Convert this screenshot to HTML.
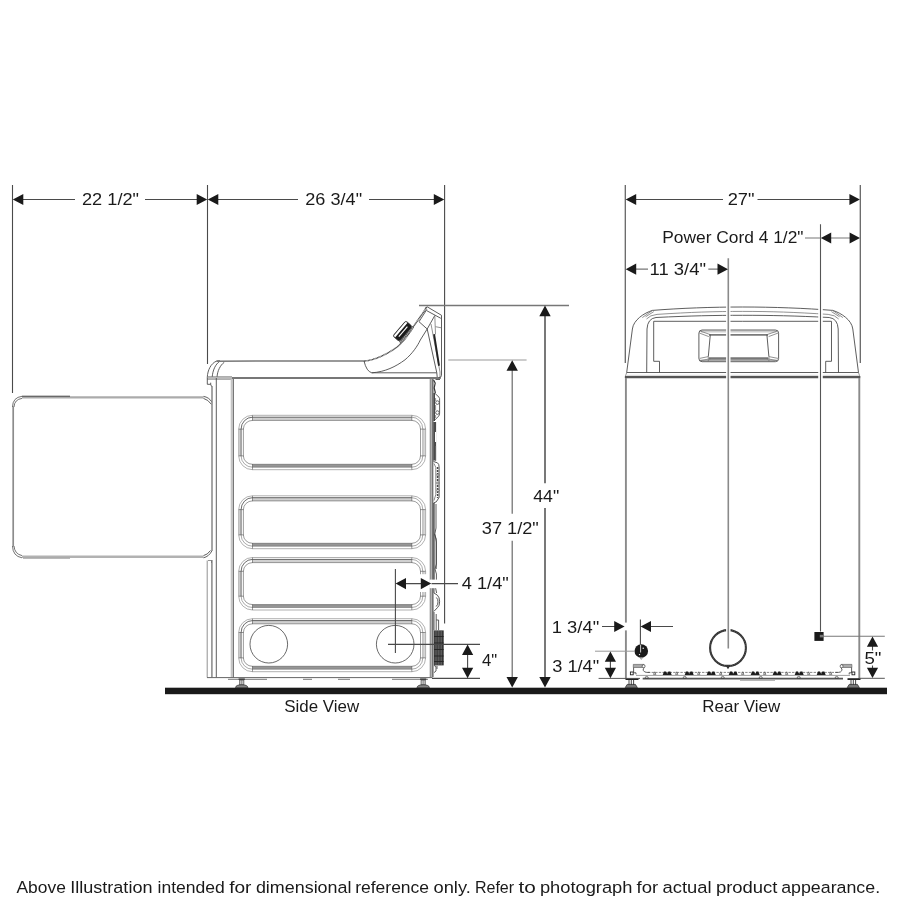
<!DOCTYPE html>
<html>
<head>
<meta charset="utf-8">
<title>Dryer dimensions</title>
<style>
html,body{margin:0;padding:0;background:#fff;}
body{width:900px;height:900px;overflow:hidden;font-family:"Liberation Sans",sans-serif;}
svg{display:block;will-change:transform;opacity:0.999;}
text{font-family:"Liberation Sans",sans-serif;fill:#1a1a1a;}
.d{stroke:#4a4a4a;stroke-width:1.1;fill:none;}
.dl{stroke:#8a8a8a;stroke-width:1.1;fill:none;}
.dk{stroke:#555;stroke-width:1.6;fill:none;}
.a{fill:#1a1a1a;stroke:none;}
.o{stroke:#4c4c4c;stroke-width:0.9;fill:none;}
.ol{stroke:#6e6e6e;stroke-width:0.75;fill:none;}
.g{stroke:#9a9a9a;stroke-width:2;fill:none;}
.t{font-size:17px;}
.v{font-size:16.5px;}
</style>
</head>
<body>
<svg width="900" height="900" viewBox="0 0 900 900">
<rect width="900" height="900" fill="#fff"/>

<!-- ===== FLOOR ===== -->
<rect x="165" y="687.7" width="722" height="6.5" fill="#1a1a1a"/>

<!-- ===== SIDE VIEW: top dimension lines ===== -->
<g id="dims-top-left">
<path class="d" d="M12.5 185V393M207.5 185V364M444.6 185V623.5"/>
<path class="d" d="M20 199.5H75M145 199.5H200M215 199.5H298M369 199.5H437"/>
<path class="a" d="M12.8 199.5l10.5-5.6v11.2zM207.2 199.5l-10.5-5.6v11.2zM207.8 199.5l10.5-5.6v11.2zM444.3 199.5l-10.5-5.6v11.2z"/>
<text class="t" x="82" y="205.3" textLength="57" lengthAdjust="spacingAndGlyphs">22 1/2"</text>
<text class="t" x="305.3" y="205.3" textLength="56.8" lengthAdjust="spacingAndGlyphs">26 3/4"</text>
</g>


<!-- ===== SIDE VIEW: body ===== -->
<g id="side-body">
<!-- open door -->
<path d="M13.2 406.5V546.5" stroke="#8c8c8c" stroke-width="1.7" fill="none"/>
<path d="M22 397.3H203.5" stroke="#ababab" stroke-width="2.3" fill="none"/>
<path d="M22 556.7H203.5" stroke="#b2b2b2" stroke-width="2.4" fill="none"/>
<path d="M22 396.2H70" stroke="#222" stroke-width="0.8" fill="none"/>
<path d="M23 558.2H70" stroke="#9a9a9a" stroke-width="1" fill="none"/>
<path d="M12.5 407Q12.7 397.4 22 396.3M14 407Q14.4 399.4 22 398.4M12.5 546Q12.8 556.2 22 557.8M14 546Q14.6 554 22 555.6" stroke="#444" stroke-width="0.75" fill="none"/>
<path class="o" d="M203.5 396.4Q209 397.2 212 402.2M203.5 398.4Q208 399.5 211.6 404.5M203.5 557.8Q209 556.5 211.8 551M203.5 555.6Q207.5 554.8 210.5 550.5"/>
<!-- lid front corner -->
<path class="o" d="M207.3 377.3C207.6 370 211 363.5 216.3 361.2Q218 360.6 220 360.8M212.2 377.3C212.6 370.5 215.5 364 219.7 361.4M217 377.3C217.4 371 220 365.5 224.3 362.2"/>
<path d="M216.5 361.2L364 360.9" stroke="#777" stroke-width="1.5" fill="none"/>
<!-- top rail under lid -->
<path d="M207.3 378H232" stroke="#cfcfcf" stroke-width="2.4" fill="none"/>
<path class="ol" d="M207.3 376.8H232M207.3 379.2H232"/>
<path d="M232 378H440.8" stroke="#777" stroke-width="2.2" fill="none"/>
<!-- notch -->
<path class="o" d="M207.3 377.3V384.3H210.7V382.7M210.7 384.3L211.6 386.7"/>
<!-- front edge verticals -->
<path d="M212 386V551M211.9 560V677.5" stroke="#888" stroke-width="1.5" fill="none"/>
<path class="o" d="M216.3 378V677.5"/>
<path d="M232.1 379V677.5" stroke="#c4c4c4" stroke-width="2.8" fill="none"/>
<path d="M233.5 379V677.5" stroke="#777" stroke-width="1" fill="none"/>
<path class="ol" d="M207.2 560.5V677.5M208 560.5H211.5V563"/>
<!-- bottom edge -->
<path d="M207 677.6H432.5" stroke="#666" stroke-width="1" fill="none"/>
<path d="M228 679.3H267M303 679.3H312M338 679.3H350M392 679.3H428" stroke="#777" stroke-width="1" fill="none"/>
<!-- feet -->
<g id="foot"><path d="M238.6 678.4h6.2v1.6h-6.2z" fill="#444"/><path d="M239.6 680v5h4.2v-5z" fill="#ccc" stroke="#444" stroke-width="0.7"/><path d="M241.7 680v5" stroke="#666" stroke-width="0.6"/><path d="M235.4 687.6q0.6-2.8 6.3-2.8t6.3 2.8z" fill="#888" stroke="#333" stroke-width="0.8"/></g>
<use href="#foot" x="181.5" y="0"/>
</g>

<!-- side panels -->
<g id="side-panels">
<path d="M252.5 418.80H411.8" stroke="#d0d0d0" stroke-width="3.20" fill="none"/>
<path d="M252.5 465.75H411.8" stroke="#969696" stroke-width="2.90" fill="none"/>
<path d="M239.90 429.1V455.9M424.20 429.1V455.9" stroke="#d6d6d6" stroke-width="2" fill="none"/>
<rect x="238.7" y="415.3" width="186.9" height="54.4" rx="13.8" fill="none" stroke="#868686" stroke-width="0.65"/>
<path d="M241.1 455.9V429.1A11.4 11.9 0 0 1 252.5 417.2H411.8" fill="none" stroke="#3a3a3a" stroke-width="0.75"/>
<path d="M411.8 417.2A11.0 11.9 0 0 1 422.8 429.1V455.9A11.0 11.3 0 0 1 411.8 467.2H252.5A11.4 11.3 0 0 1 241.1 455.9" fill="none" stroke="#707070" stroke-width="0.6"/>
<path d="M243.4 455.9V429.1A9.1 8.7 0 0 1 252.5 420.40000000000003H411.8A8.7 8.7 0 0 1 420.5 429.1V455.9A8.7 8.4 0 0 1 411.8 464.3H252.5A9.1 8.4 0 0 1 243.4 455.9z" fill="none" stroke="#666" stroke-width="0.65"/>
<path d="M252.5 415.3V420.70000000000005M411.8 415.3V420.70000000000005M252.5 469.7V464.0M411.8 469.7V464.0M238.7 429.1H243.70000000000002M238.7 455.9H243.70000000000002M425.6 429.1H420.2M425.6 455.9H420.2" stroke="#444" stroke-width="0.55" fill="none"/>
<path d="M252.5 499.30H411.8" stroke="#d0d0d0" stroke-width="3.20" fill="none"/>
<path d="M252.5 544.75H411.8" stroke="#969696" stroke-width="2.90" fill="none"/>
<path d="M239.90 509.6V534.9000000000001M424.20 509.6V534.9000000000001" stroke="#d6d6d6" stroke-width="2" fill="none"/>
<rect x="238.7" y="495.8" width="186.9" height="52.9" rx="13.8" fill="none" stroke="#868686" stroke-width="0.65"/>
<path d="M241.1 534.9000000000001V509.6A11.4 11.9 0 0 1 252.5 497.7H411.8" fill="none" stroke="#3a3a3a" stroke-width="0.75"/>
<path d="M411.8 497.7A11.0 11.9 0 0 1 422.8 509.6V534.9000000000001A11.0 11.3 0 0 1 411.8 546.2H252.5A11.4 11.3 0 0 1 241.1 534.9000000000001" fill="none" stroke="#707070" stroke-width="0.6"/>
<path d="M243.4 534.9000000000001V509.6A9.1 8.7 0 0 1 252.5 500.90000000000003H411.8A8.7 8.7 0 0 1 420.5 509.6V534.9000000000001A8.7 8.4 0 0 1 411.8 543.3000000000001H252.5A9.1 8.4 0 0 1 243.4 534.9000000000001z" fill="none" stroke="#666" stroke-width="0.65"/>
<path d="M252.5 495.8V501.20000000000005M411.8 495.8V501.20000000000005M252.5 548.7V543.0000000000001M411.8 548.7V543.0000000000001M238.7 509.6H243.70000000000002M238.7 534.9000000000001H243.70000000000002M425.6 509.6H420.2M425.6 534.9000000000001H420.2" stroke="#444" stroke-width="0.55" fill="none"/>
<path d="M252.5 561.00H411.8" stroke="#d0d0d0" stroke-width="3.20" fill="none"/>
<path d="M252.5 606.05H411.8" stroke="#969696" stroke-width="2.90" fill="none"/>
<path d="M239.90 571.3V596.2M424.20 571.3V596.2" stroke="#d6d6d6" stroke-width="2" fill="none"/>
<rect x="238.7" y="557.5" width="186.9" height="52.5" rx="13.8" fill="none" stroke="#868686" stroke-width="0.65"/>
<path d="M241.1 596.2V571.3A11.4 11.9 0 0 1 252.5 559.4H411.8" fill="none" stroke="#3a3a3a" stroke-width="0.75"/>
<path d="M411.8 559.4A11.0 11.9 0 0 1 422.8 571.3V596.2A11.0 11.3 0 0 1 411.8 607.5H252.5A11.4 11.3 0 0 1 241.1 596.2" fill="none" stroke="#707070" stroke-width="0.6"/>
<path d="M243.4 596.2V571.3A9.1 8.7 0 0 1 252.5 562.6H411.8A8.7 8.7 0 0 1 420.5 571.3V596.2A8.7 8.4 0 0 1 411.8 604.6H252.5A9.1 8.4 0 0 1 243.4 596.2z" fill="none" stroke="#666" stroke-width="0.65"/>
<path d="M252.5 557.5V562.9M411.8 557.5V562.9M252.5 610.0V604.3000000000001M411.8 610.0V604.3000000000001M238.7 571.3H243.70000000000002M238.7 596.2H243.70000000000002M425.6 571.3H420.2M425.6 596.2H420.2" stroke="#444" stroke-width="0.55" fill="none"/>
<path d="M252.5 622.20H411.8" stroke="#d0d0d0" stroke-width="3.20" fill="none"/>
<path d="M252.5 667.75H411.8" stroke="#969696" stroke-width="2.90" fill="none"/>
<path d="M239.90 632.5V657.9000000000001M424.20 632.5V657.9000000000001" stroke="#d6d6d6" stroke-width="2" fill="none"/>
<rect x="238.7" y="618.7" width="186.9" height="53.0" rx="13.8" fill="none" stroke="#868686" stroke-width="0.65"/>
<path d="M241.1 657.9000000000001V632.5A11.4 11.9 0 0 1 252.5 620.6H411.8" fill="none" stroke="#3a3a3a" stroke-width="0.75"/>
<path d="M411.8 620.6A11.0 11.9 0 0 1 422.8 632.5V657.9000000000001A11.0 11.3 0 0 1 411.8 669.2H252.5A11.4 11.3 0 0 1 241.1 657.9000000000001" fill="none" stroke="#707070" stroke-width="0.6"/>
<path d="M243.4 657.9000000000001V632.5A9.1 8.7 0 0 1 252.5 623.8000000000001H411.8A8.7 8.7 0 0 1 420.5 632.5V657.9000000000001A8.7 8.4 0 0 1 411.8 666.3000000000001H252.5A9.1 8.4 0 0 1 243.4 657.9000000000001z" fill="none" stroke="#666" stroke-width="0.65"/>
<path d="M252.5 618.7V624.1M411.8 618.7V624.1M252.5 671.7V666.0000000000001M411.8 671.7V666.0000000000001M238.7 632.5H243.70000000000002M238.7 657.9000000000001H243.70000000000002M425.6 632.5H420.2M425.6 657.9000000000001H420.2" stroke="#444" stroke-width="0.55" fill="none"/>
<circle cx="268.8" cy="644.2" r="18.8" fill="none" stroke="#444" stroke-width="0.8"/>
<circle cx="395.2" cy="644.2" r="18.8" fill="none" stroke="#444" stroke-width="0.8"/>
</g>

<!-- control panel / backsplash (side) -->
<g id="side-console">
<!-- scoop -->
<path class="o" d="M364 361Q366.5 371.5 371.8 372.8H436.8"/>
<path d="M364 361C375 360.5 389 353 396.7 347.3C404 341.5 410 332.5 413.5 326.5L427 307" stroke="#3a3a3a" stroke-width="1.5" stroke-dasharray="0.9 0.45" fill="none"/>
<path class="o" d="M371.8 372.8C385 372 396 366.5 405 359.8C412.5 353.5 417.5 346 420.3 340L427.2 329L434.8 315.5"/>
<!-- top face -->
<path class="o" d="M424.8 308.4L427.2 306.8L441.5 315.3V375.2Q441.5 377.6 438.8 377.6"/>
<path class="o" d="M426.6 310.6L440.8 318.3M426.9 309.4L419 321.7L427.2 329"/>
<path class="o" d="M427.2 329L436.8 372.8L437.2 377"/>
<path class="ol" d="M431 324L440 372V377M434.8 315.5L435.5 334.5M435.5 326.7L441.3 327.8"/>
<path d="M434.2 335L438.9 365" stroke="#222" stroke-width="1.9" stroke-linecap="round" fill="none"/>
<!-- knob -->
<g transform="translate(402.9 331.5) rotate(-49.5)">
<rect x="-10.2" y="3.6" width="20.4" height="2.2" fill="#999"/>
<path d="M-10 3.7v2.2M-8 3.7v2.2M-6 3.7v2.2M-4 3.7v2.2M-2 3.7v2.2M0 3.7v2.2M2 3.7v2.2M4 3.7v2.2M6 3.7v2.2M8 3.7v2.2M10 3.7v2.2" stroke="#333" stroke-width="0.6"/>
<rect x="-10" y="-4.8" width="20" height="8.6" rx="2" fill="#1a1a1a"/>
<path d="M-8.2 -4.4H8.2Q9.6 -4.4 9.6 -3V-2.1H-9.6V-3Q-9.6 -4.4 -8.2 -4.4z" fill="#fff"/>
<rect x="-10" y="-4.8" width="20" height="8.6" rx="2" fill="none" stroke="#333" stroke-width="0.7"/>
<rect x="-6.6" y="-0.3" width="13.2" height="1.1" fill="#fff"/>
</g>
</g>
<!-- back side details -->
<g id="side-back">
<path d="M431.4 379V677" stroke="#b4b4b4" stroke-width="2.6" fill="none"/>
<path d="M430.2 379V677" stroke="#777" stroke-width="0.8" fill="none"/>
<path d="M432.9 379V677" stroke="#444" stroke-width="1.1" fill="none"/>
<!-- upper squiggle with two bumps -->
<path d="M433.6 380l1.6 3l-1 5l1.2 5" stroke="#333" stroke-width="1.2" fill="none"/>
<path class="o" d="M435.5 379.5h4.5M434.6 393l4.4 4.2q0.8 1 0.6 3v13q0 2-1 3l-4.2 4.2"/>
<path d="M434.2 393v28" stroke="#333" stroke-width="1.4" fill="none"/>
<circle cx="437.4" cy="402.6" r="1.8" fill="#fff" stroke="#444" stroke-width="0.8"/>
<circle cx="437.4" cy="412.6" r="1.8" fill="#fff" stroke="#444" stroke-width="0.8"/>
<path class="ol" d="M435.6 398v3M435.6 405v5.5M435.6 415v3"/>
<!-- mid line + small slot -->
<path d="M434.7 422V460.5" stroke="#4a4a4a" stroke-width="2.8" fill="none"/>
<rect x="435" y="432" width="1.2" height="10" fill="#fff"/>
<path class="ol" d="M435.6 446v15"/>
<!-- connector box -->
<path d="M433.6 461.5l3.9 1.4q1.6 1 1.6 4v30.5l-2.8 4.4l-2.7 1.2" fill="#fff" stroke="#444" stroke-width="0.9"/>
<path d="M434 463.5l1.8 4v27l-1.8 6" stroke="#555" stroke-width="0.7" fill="none"/>
<path d="M437.6 467v31" stroke="#444" stroke-width="1.5" stroke-dasharray="2 1" fill="none"/>
<circle cx="437.9" cy="475" r="1.1" fill="#fff" stroke="#444" stroke-width="0.6"/><circle cx="437.9" cy="483" r="1.1" fill="#fff" stroke="#444" stroke-width="0.6"/><circle cx="437.9" cy="490.5" r="1.1" fill="#fff" stroke="#444" stroke-width="0.6"/>
<!-- lower runs -->
<path d="M434 503V580" stroke="#3a3a3a" stroke-width="1.2" fill="none"/>
<path class="o" d="M436 504v24l-1.2 6l1.6 8v22l-1.4 5l1.4 5v6"/>
<path d="M434.6 534l1.6 5v30" stroke="#444" stroke-width="0.9" fill="none"/>
<!-- white halo at 4 1/4 line -->
<rect x="433.7" y="581.2" width="8" height="5" fill="#fff"/>
<!-- lower bulge -->
<path d="M434 588v5l3.4 2.2q2.2 2 2.2 6.5t-2.2 6l-3.4 3.6" fill="#fff" stroke="#444" stroke-width="0.9"/>
<path class="o" d="M435.6 588l1 5M436.4 597.5q1.6 1.6 1.6 4.4t-1.8 4.6M434 612v18"/>
<path class="o" d="M436.2 614v6h2.4v10M436.2 620v10"/>
<!-- vent -->
<rect x="433.9" y="630.4" width="9.8" height="35" fill="#333"/>
<path d="M435.2 631v34M436.8 631v34M438.4 631v34M440 631v34M441.6 631v34" stroke="#8a8a8a" stroke-width="0.5"/>
<path d="M434 636.5h9.6M434 643h9.6M434 649.5h9.6M434 656h9.6M434 661.5h9.6" stroke="#222" stroke-width="0.9"/>
<path class="o" d="M434 665.4l2 1.2v4.4l-2 1.6M437 666v3"/>
</g>
<!-- ===== SIDE VIEW: vertical / small dims ===== -->
<g id="dims-side">
<!-- horizontal extension lines -->
<path d="M419 305.5H569" stroke="#777" stroke-width="1.3" fill="none"/>
<path d="M448.3 360H526.6" stroke="#999" stroke-width="1.1" fill="none"/>
<!-- 44" -->
<path d="M545 314V483.3M545 508V680" stroke="#6a6a6a" stroke-width="1.8" fill="none"/>
<path class="a" d="M545 305.6l5.7 10.6h-11.4zM545 687.5l5.7-10.6h-11.4z"/>
<text class="t" x="533.2" y="501.8" textLength="26" lengthAdjust="spacingAndGlyphs">44"</text>
<!-- 37 1/2" -->
<path d="M512.2 368V513.7M512.2 540.8V680" stroke="#6a6a6a" stroke-width="1.2" fill="none"/>
<path class="a" d="M512.2 360.2l5.7 10.6h-11.4zM512.2 687.5l5.7-10.6h-11.4z"/>
<text class="t" x="481.8" y="533.8" textLength="57" lengthAdjust="spacingAndGlyphs">37 1/2"</text>
<!-- 4 1/4" -->
<rect x="420" y="574.2" width="7.2" height="17.8" fill="#fff"/><rect x="429.4" y="579.6" width="11" height="8.6" fill="#fff"/>
<path class="d" d="M395.4 569V653M403 583.6H424M431.5 583.6H458"/>
<path class="a" d="M395.6 583.6l10.4-5.6v11.2zM431.2 583.6l-10.4-5.6v11.2z"/>
<text class="t" x="461.8" y="589.2" textLength="47" lengthAdjust="spacingAndGlyphs">4 1/4"</text>
<!-- 4" -->
<path class="d" d="M388 644.4H480M432 678.4H480M467.6 652V671"/>
<path class="a" d="M467.6 644.6l5.6 10.4h-11.2zM467.6 678.2l5.6-10.4h-11.2z"/>
<text class="t" x="482" y="666.2" textLength="15.2" lengthAdjust="spacingAndGlyphs">4"</text>
</g>

<!-- ===== REAR VIEW: body ===== -->
<g id="rear-body">
<g id="hood-half">
<path class="o" d="M626.7 372.5L632.4 329C633.4 320 644 313 652.5 310.4C680 308.2 712 307 742.6 307"/>
<path class="ol" d="M642.3 317.6L652.5 310.4M645.6 316.8L653.8 311.6"/>
<path class="ol" d="M646.5 319Q650 315 657 314.4C690 312.2 715 311.4 742.6 311.4"/>
<path class="o" d="M646.7 372.5L647 329Q647.6 318.5 656 317.5C690 315.8 715 315.3 742.6 315.3"/>
<path class="o" d="M742.6 321.3H653.7V361.3H659.5V372.5"/>
<path class="ol" d="M626.7 372.5L625 377.5"/>
</g>
<use href="#hood-half" transform="translate(1485.2 0) scale(-1 1)"/>
<!-- base rail of hood -->
<path class="o" d="M626.7 372.5H858.5"/>
<path d="M625 377.2H860.2" stroke="#555" stroke-width="2.2" fill="none"/>
<path d="M626 375.4H859.2" stroke="#ddd" stroke-width="1.2" fill="none"/>
<!-- cabinet sides -->
<path d="M625.9 378V679M859.3 378V679" stroke="#8a8a8a" stroke-width="1.9" fill="none"/>
<!-- recessed handle -->
<path d="M701 331.6H776.5" stroke="#cfcfcf" stroke-width="2" fill="none"/>
<path d="M709 334.9H768" stroke="#7a7a7a" stroke-width="1.9" fill="none"/>
<path d="M709 358.4H768" stroke="#777" stroke-width="2.5" fill="none"/>
<rect class="o" x="698.9" y="330" width="79.7" height="31.7" rx="3.2"/>
<path class="ol" d="M700 360.3H777.5"/>
<path class="o" d="M710.3 334.6L708.3 356.6M766.9 334.6L768.9 356.6"/>
<path class="ol" d="M700 331L710.3 334.6M699.3 333L708.8 336.6M700 360.7L710.8 358.6M699.6 358.4L708.3 356.6M777.5 331L767 334.6M778.2 333L768.6 336.6M777.5 360.7L766.5 358.6M778 358.4L768.9 356.6M708.3 356.6V361.5M768.9 356.6V361.5"/>
</g>

<!-- ===== REAR VIEW: bottom details ===== -->
<g id="rear-bottom">
<!-- rail -->
<path d="M648 672.4H838" stroke="#555" stroke-width="0.7" stroke-dasharray="2.4 1.2" fill="none"/>
<path d="M662.7 674.9l1.3-3.3h2l1 1.8h0.4l1-1.8h2l1.3 3.3zM684.7 674.9l1.3-3.3h2l1 1.8h0.4l1-1.8h2l1.3 3.3zM706.7 674.9l1.3-3.3h2l1 1.8h0.4l1-1.8h2l1.3 3.3zM728.7 674.9l1.3-3.3h2l1 1.8h0.4l1-1.8h2l1.3 3.3zM750.7 674.9l1.3-3.3h2l1 1.8h0.4l1-1.8h2l1.3 3.3zM772.7 674.9l1.3-3.3h2l1 1.8h0.4l1-1.8h2l1.3 3.3zM794.7 674.9l1.3-3.3h2l1 1.8h0.4l1-1.8h2l1.3 3.3zM816.7 674.9l1.3-3.3h2l1 1.8h0.4l1-1.8h2l1.3 3.3z" fill="#1a1a1a"/>
<path d="M653.5 674.4l1.2-2.6l1.2 2.6zM675.5 674.4l1.2-2.6l1.2 2.6zM697.5 674.4l1.2-2.6l1.2 2.6zM719.5 674.4l1.2-2.6l1.2 2.6zM741.5 674.4l1.2-2.6l1.2 2.6zM763.5 674.4l1.2-2.6l1.2 2.6zM785.5 674.4l1.2-2.6l1.2 2.6zM807.5 674.4l1.2-2.6l1.2 2.6zM829.5 674.4l1.2-2.6l1.2 2.6z" fill="#fff" stroke="#333" stroke-width="0.6"/>
<path d="M636 675.4H850" stroke="#777" stroke-width="0.7" fill="none"/>
<path d="M642.7 678.6H843" stroke="#555" stroke-width="1.6" fill="none"/>
<path d="M740 680.4H775" stroke="#999" stroke-width="0.8" fill="none"/>
<path d="M645.1 678a1.6 1.6 0 0 1 3.2 0zM683.1 678a1.6 1.6 0 0 1 3.2 0zM721.1 678a1.6 1.6 0 0 1 3.2 0zM759.1 678a1.6 1.6 0 0 1 3.2 0zM797.1 678a1.6 1.6 0 0 1 3.2 0zM835.1 678a1.6 1.6 0 0 1 3.2 0z" fill="#fff" stroke="#333" stroke-width="0.6"/>
<!-- brackets -->
<g id="brk">
<path d="M633.3 664.4H644V667.5H633.3z" fill="#aaa" stroke="#555" stroke-width="0.6"/>
<path class="o" d="M633.6 667.5V672.8H636V674.4M644.6 667.6q-2.2 1.2-1.2 3t3.4 1.8h3"/>
<circle cx="643.6" cy="666.2" r="1.5" fill="#fff" stroke="#444" stroke-width="0.7"/>
<rect x="630.4" y="672" width="2.8" height="2.8" fill="#fff" stroke="#222" stroke-width="0.9"/>
</g>
<use href="#brk" transform="translate(1485.2 0) scale(-1 1)"/>
<!-- feet -->
<g id="rfoot">
<path d="M625.5 678.2H638.5V680H625.5z" fill="#222"/>
<path d="M629 680v5.2M633.6 680v5.2M631.3 680v5.2" stroke="#333" stroke-width="0.9" fill="none"/>
<path d="M625.2 687.6l2-3.2h8.2l2 3.2z" fill="#777" stroke="#222" stroke-width="0.7"/>
</g>
<use href="#rfoot" x="222" y="0"/>
<!-- gas inlet -->
<circle cx="641.3" cy="651" r="6.8" fill="#1a1a1a"/>
<path d="M641.3 657.6l-1.2 0l1.2 1.8l1.2-1.8z" fill="#fff" stroke="#444" stroke-width="0.5"/>
<path d="M640.6 645v7.5" stroke="#fff" stroke-width="0.8"/>
<circle cx="643.2" cy="648.2" r="0.7" fill="#fff"/><circle cx="639.5" cy="654.6" r="0.7" fill="#fff"/>
<!-- vent circle -->
<circle cx="728" cy="648" r="17.9" fill="none" stroke="#333" stroke-width="2.1"/><circle cx="728" cy="648" r="17.9" fill="none" stroke="#888" stroke-width="0.7" stroke-dasharray="0.5 1.6"/>
<path d="M725.6 665.6h4.8l-2.4 3.6z" fill="#333"/>
<!-- power cord block -->
<rect x="814.4" y="632" width="9.2" height="8.9" fill="#1a1a1a"/>
<rect x="819.8" y="634.8" width="3.2" height="2.6" fill="#777"/>
</g>

<!-- ===== REAR VIEW: dimensions ===== -->
<g id="dims-rear">
<path d="M625.3 185V363M860.3 185V363" stroke="#666" stroke-width="1.3" fill="none"/>
<!-- 27" -->
<path class="d" d="M633 199.5H723M757.5 199.5H853"/>
<path class="a" d="M625.7 199.5l10.5-5.6v11.2zM859.9 199.5l-10.5-5.6v11.2z"/>
<text class="t" x="727.7" y="205.2" textLength="26.8" lengthAdjust="spacingAndGlyphs">27"</text>
<!-- power cord -->
<path d="M820.5 295V380" stroke="#fff" stroke-width="4.6" fill="none"/>
<path d="M820.5 224.2V631.6" stroke="#555" stroke-width="1.1" fill="none"/>
<path d="M805 238H820.5M828 238H853" stroke="#777" stroke-width="1.2" fill="none"/>
<path class="a" d="M820.8 238l10.4-5.6v11.2zM860 238l-10.4-5.6v11.2z"/>
<text class="t" x="662.2" y="243.4" textLength="141.3" lengthAdjust="spacingAndGlyphs">Power Cord 4 1/2"</text>
<path d="M823.6 636.2H884.8" stroke="#777" stroke-width="1.1" fill="none"/>
<!-- 11 3/4" -->
<path d="M728.3 295V380M728.3 625V640" stroke="#fff" stroke-width="4.4" fill="none"/>
<path d="M728.3 258.3V648.6" stroke="#8a8a8a" stroke-width="1.6" fill="none"/>
<path d="M633 269.2H648M708.3 269.2H721" stroke="#777" stroke-width="1.2" fill="none"/>
<path class="a" d="M625.7 269.2l10.5-5.6v11.2zM728 269.2l-10.5-5.6v11.2z"/>
<text class="t" x="649.5" y="274.8" textLength="56.5" lengthAdjust="spacingAndGlyphs">11 3/4"</text>
<!-- 1 3/4" -->
<path class="d" d="M602 626.5H616M648 626.5H673M640.4 619.4V644.4"/>
<path d="M624.4 622.6h3v7.8h-3z" fill="#fff"/>
<path class="a" d="M624.6 626.5l-10.4-5.6v11.2zM640.6 626.5l10.4-5.6v11.2z"/>
<text class="t" x="551.8" y="632.6" textLength="47.4" lengthAdjust="spacingAndGlyphs">1 3/4"</text>
<!-- 3 1/4" -->
<path d="M595 651.2H634.5" stroke="#999" stroke-width="1" fill="none"/>
<path d="M598.6 678.4H640" stroke="#555" stroke-width="1" fill="none"/>
<path class="d" d="M610.4 659V671"/>
<path class="a" d="M610.4 651.4l5.6 10.4h-11.2zM610.4 678.2l5.6-10.4h-11.2z"/>
<text class="t" x="552.2" y="671.5" textLength="47" lengthAdjust="spacingAndGlyphs">3 1/4"</text>
<!-- 5" -->
<path d="M859 678.3H884.8" stroke="#555" stroke-width="1" fill="none"/>
<path class="d" d="M872.5 644V650.5M872.5 665.5V671"/>
<path class="a" d="M872.5 636.4l5.6 10.4h-11.2zM872.5 678.1l5.6-10.4h-11.2z"/>
<text class="t" x="864.4" y="663.6" textLength="17" lengthAdjust="spacingAndGlyphs">5"</text>
</g>

<!-- ===== LABELS ===== -->
<text class="v" x="284.2" y="711.5" textLength="75" lengthAdjust="spacingAndGlyphs">Side View</text>
<text class="v" x="702.3" y="711.5" textLength="78" lengthAdjust="spacingAndGlyphs">Rear View</text>
<g id="caption" font-size="17.2">
<text x="16.50" y="892.6" textLength="49.30" lengthAdjust="spacingAndGlyphs">Above</text>
<text x="70.20" y="892.6" textLength="82.30" lengthAdjust="spacingAndGlyphs">Illustration</text>
<text x="157.50" y="892.6" textLength="67.30" lengthAdjust="spacingAndGlyphs">intended</text>
<text x="229.20" y="892.6" textLength="22.30" lengthAdjust="spacingAndGlyphs">for</text>
<text x="255.90" y="892.6" textLength="95.60" lengthAdjust="spacingAndGlyphs">dimensional</text>
<text x="355.20" y="892.6" textLength="73.90" lengthAdjust="spacingAndGlyphs">reference</text>
<text x="433.50" y="892.6" textLength="37.30" lengthAdjust="spacingAndGlyphs">only.</text>
<text x="474.90" y="892.6" textLength="39.20" lengthAdjust="spacingAndGlyphs">Refer</text>
<text x="518.50" y="892.6" textLength="17.30" lengthAdjust="spacingAndGlyphs">to</text>
<text x="539.90" y="892.6" textLength="92.60" lengthAdjust="spacingAndGlyphs">photograph</text>
<text x="636.50" y="892.6" textLength="21.60" lengthAdjust="spacingAndGlyphs">for</text>
<text x="662.50" y="892.6" textLength="49.00" lengthAdjust="spacingAndGlyphs">actual</text>
<text x="715.90" y="892.6" textLength="61.60" lengthAdjust="spacingAndGlyphs">product</text>
<text x="781.20" y="892.6" textLength="98.90" lengthAdjust="spacingAndGlyphs">appearance.</text>
</g>
</svg>
</body>
</html>
